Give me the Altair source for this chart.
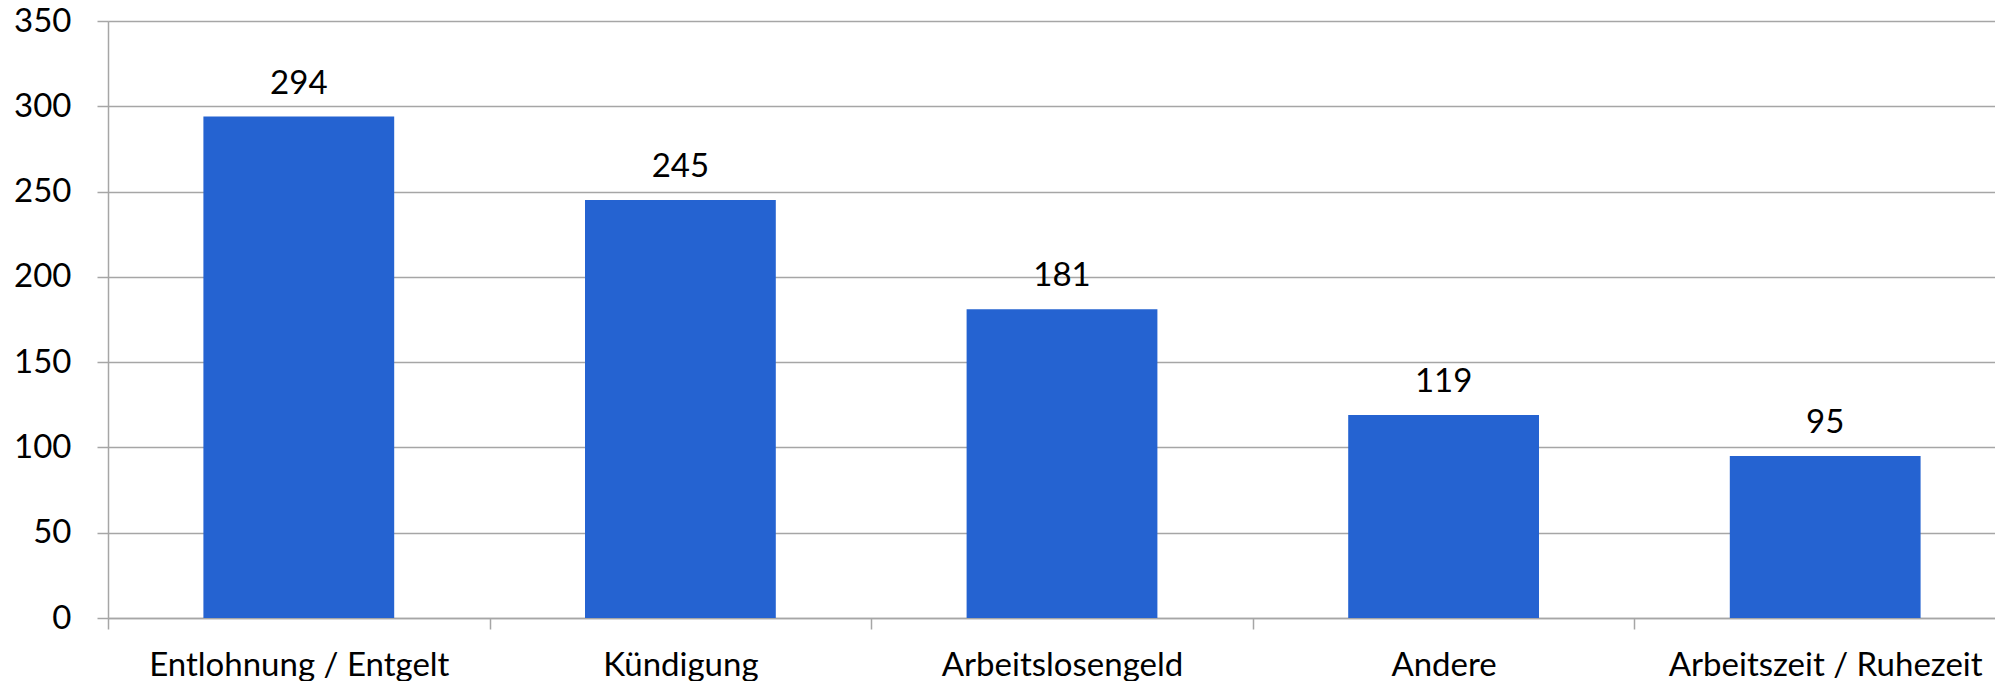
import altair as alt
import pandas as pd

categories = ["Entlohnung / Entgelt", "Kündigung", "Arbeitslosengeld", "Andere", "Arbeitszeit / Ruhezeit"]
values = [294, 245, 181, 119, 95]

df = pd.DataFrame({"Kategorie": categories, "Anzahl": values})

FONT = "Lato"
FS = 33

base = alt.Chart(df).encode(
    x=alt.X(
        "Kategorie:N",
        sort=categories,
        scale=alt.Scale(paddingInner=0, paddingOuter=0, range=[0, 1908]),
        axis=alt.Axis(
            title=None,
            labelAngle=0,
            labelFont=FONT,
            labelFontSize=FS,
            labelColor="#000000",
            labelPadding=20,
            labelLimit=0,
            domainColor="#A6A6A6",
            domainWidth=1.5,
            tickColor="#A6A6A6",
            tickSize=11,
            tickWidth=1.5,
            tickBand="extent",
            grid=False,
        ),
    ),
    y=alt.Y(
        "Anzahl:Q",
        scale=alt.Scale(domain=[0, 350], nice=False),
        axis=alt.Axis(
            title=None,
            values=[0, 50, 100, 150, 200, 250, 300, 350],
            labelFont=FONT,
            labelFontSize=FS,
            labelColor="#000000",
            labelPadding=26,
            tickColor="#A6A6A6",
            tickSize=11,
            tickWidth=1.5,
            domainColor="#A6A6A6",
            domainWidth=1.5,
            gridColor="#A6A6A6",
            gridWidth=1.5,
        ),
    ),
)

bars = base.mark_bar(color="#2563D1", width=alt.RelativeBandSize(0.5))
labels = base.mark_text(
    font=FONT, fontSize=FS, color="#000000", baseline="alphabetic", dy=-23
).encode(text="Anzahl:Q")

chart = (
    (bars + labels)
    .properties(
        width=1887,
        height=597,
        autosize=alt.AutoSizeParams(type="none"),
        padding={"left": 100, "top": 13, "right": 0, "bottom": 63},
    )
    .configure_view(stroke=None)
    .configure(background="#ffffff")
)

chart.save("out.html", embed_options={"renderer": "svg", "actions": False})
